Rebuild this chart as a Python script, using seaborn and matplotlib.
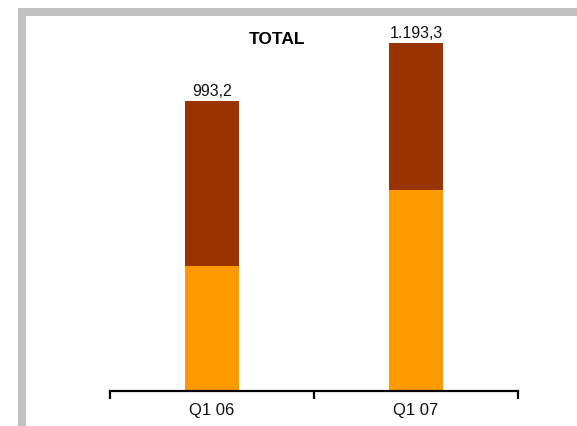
import matplotlib
matplotlib.use("Agg")
import matplotlib.pyplot as plt
import seaborn as sns
import pandas as pd
from matplotlib.patches import Rectangle

categories = ["Q1 06", "Q1 07"]
lower_values = [428.0, 688.0]
upper_values = [565.2, 505.3]
total_labels = ["993,2", "1.193,3"]
title_text = "TOTAL"

totals = [a + b for a, b in zip(lower_values, upper_values)]
df = pd.DataFrame({"cat": categories, "lower": lower_values, "total": totals})

sns.set_theme(style="white")
plt.rcParams["font.family"] = ["Liberation Sans", "DejaVu Sans"]

W, H = 577, 426
fig = plt.figure(figsize=(W / 100, H / 100), dpi=100)
fig.patch.set_facecolor("white")

# gray frame
fig.patches.append(Rectangle((18 / W, 1 - 16 / H), 1 - 18 / W, 8 / H,
                             transform=fig.transFigure, facecolor="#c0c0c0",
                             edgecolor="none", zorder=0))
fig.patches.append(Rectangle((18 / W, 0), 8 / W, 1 - 8 / H,
                             transform=fig.transFigure, facecolor="#c0c0c0",
                             edgecolor="none", zorder=0))

ax_left = 110 / W
ax_right = 518 / W
ax_bottom = (H - 391) / H
ax_top = (H - 17) / H
ax = fig.add_axes([ax_left, ax_bottom, ax_right - ax_left, ax_top - ax_bottom])
ax.set_facecolor("none")

sns.barplot(data=df, x="cat", y="total", color="#993300", width=0.26,
            saturation=1, ax=ax, errorbar=None, linewidth=0)
sns.barplot(data=df, x="cat", y="lower", color="#ff9900", width=0.26,
            saturation=1, ax=ax, errorbar=None, linewidth=0)

ax.set_xlim(-0.5, 1.5)
ax.set_ylim(0, 374 / 0.2917)

for i, (t, lab) in enumerate(zip(totals, total_labels)):
    ax.annotate(lab, (i, t), xytext=(0, 1.5), textcoords="offset points",
                ha="center", va="bottom", fontsize=11.5, color="#111111")

ax.text((277 - 110) / 408, (374 - 23) / 374, title_text, transform=ax.transAxes,
        ha="center", va="center", fontsize=12.5, fontweight="bold", color="black")

for s in ["top", "right", "left"]:
    ax.spines[s].set_visible(False)
ax.spines["bottom"].set_linewidth(1.6)
ax.spines["bottom"].set_color("black")

ax.set_yticks([])
ax.set_xlabel("")
ax.set_ylabel("")
ax.set_xticks([0, 1])
ax.set_xticklabels(categories, fontsize=12, color="#111111")
ax.tick_params(axis="x", which="major", length=0, pad=9)
ax.set_xticks([-0.5, 0.5, 1.5], minor=True)
ax.tick_params(axis="x", which="minor", direction="out", length=6, width=1.6,
               color="black", bottom=True)

fig.savefig("out.png", dpi=100, facecolor="white")
